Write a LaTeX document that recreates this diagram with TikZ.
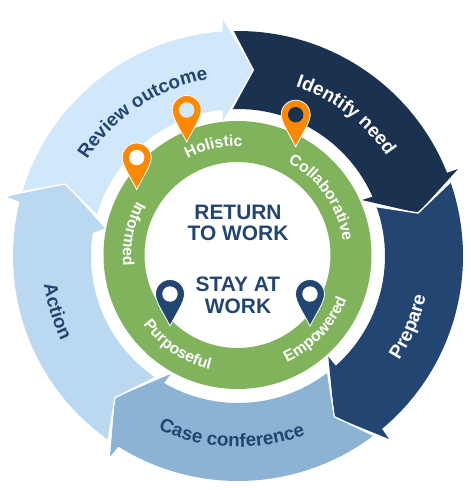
\documentclass[tikz,border=0pt]{standalone}
\usepackage{fontspec}
\setmainfont{Liberation Sans}
\usepackage{xcolor}
\usetikzlibrary{decorations.text}
\definecolor{reviewblue}{HTML}{D1E7FA}
\definecolor{identifynavy}{HTML}{1B3150}
\definecolor{preparenavy}{HTML}{234571}
\definecolor{caseblue}{HTML}{8CB3D3}
\definecolor{actionblue}{HTML}{BAD9F0}
\definecolor{ringgreen}{HTML}{80B35C}
\definecolor{pinorange}{HTML}{FF8800}
\tikzset{>=latex}
\tikzstyle{seam} = [draw=white, line width=1pt, line join=miter]
\tikzstyle{pin} = [draw=white, line width=0.6pt]
\tikzstyle{centertext} = [align=center, text=preparenavy, font=\fontsize{15.7}{16.2}\selectfont\bfseries]
\tikzstyle{lightlabel} = [decorate, decoration={text along path, text align=center, text={|\fontsize{14.2}{14}\selectfont\bfseries\color{preparenavy}|#1}}]
\tikzstyle{darklabel} = [decorate, decoration={text along path, text align=center, text={|\fontsize{14.2}{14}\selectfont\bfseries\color{white}|#1}}]
\tikzstyle{ringlabel} = [decorate, decoration={text along path, text align=center, text={|\fontsize{11.8}{12}\selectfont\bfseries\color{white}|#1}}]
\newcommand{\mappin}[4]{
    \begin{scope}[shift={(#1,#2)}]
        \draw[pin, fill=#3] (0,-32) .. controls (-6,-20) and (-14.5,-8) .. (-14.5,0) arc (180:0:14.5) .. controls (14.5,-8) and (6,-20) .. (0,-32) -- cycle;
        \fill[#4] (0,0) circle (7.7);
    \end{scope}
}

\begin{document}
\begin{tikzpicture}[x=0.75pt, y=0.75pt]
    \useasboundingbox (-238,-234) rectangle (233,256);

    % Outer ring of arrows
    \fill[reviewblue] (163.4:225) arc (163.4:94:225) -- (-15.3,236.7) -- (15.3,186) -- (-15.3,135) -- (96:147) arc (96:163.8:147) -- (-173,72) -- cycle;
    \fill[identifynavy] (91.3:225) arc (91.3:21.7:225) -- (220,87) -- (180,43) -- (124,56) -- (23.8:147) arc (23.8:92.4:147) -- (15.3,186) -- cycle;
    \fill[preparenavy] (19.2:225) arc (19.2:-50.2:225) -- (151,-183) -- (96.3,-160.7) -- (90.3,-100.7) -- (-48.3:147) arc (-48.3:19.6:147) -- (180,43) -- cycle;
    \fill[caseblue] (-52.9:225) arc (-52.9:-122.1:225) -- (-128,-200.7) -- (-123,-141.7) -- (-67.3,-118) -- (-120.2:147) arc (-120.2:-52.4:147) -- (96.3,-160.7) -- cycle;
    \fill[actionblue] (234.8:225) arc (234.8:166.1:225) -- (-231.3,59.3) -- (-173,72) -- (-133,27.7) -- (171:147) arc (171:235.8:147) -- (-123,-141.7) -- cycle;

    % White lines where one arrow enters the next
    \draw[seam] (91.3:225) -- (15.3,186) -- (92.4:147);
    \draw[seam] (19.2:225) -- (180,43) -- (19.6:147);
    \draw[seam] (-52.9:225) -- (96.3,-160.7) -- (-52.4:147);
    \draw[seam] (234.8:225) -- (-123,-141.7) -- (235.8:147);
    \draw[seam] (163.4:225) -- (-173,72) -- (163.8:147);

    % Arrow labels
    \path[lightlabel=Review outcome] (147:179) arc (147:100:179);
    \path[darklabel=Identify need] (72:179) arc (72:33:179);
    \path[darklabel=Prepare] (-33:192) arc (-33:-12:192);
    \path[lightlabel=Case conference] (-115:191) arc (-115:-69:191);
    \path[lightlabel=Action] (189:196) arc (189:205:196);

    % Green ring
    \fill[ringgreen, even odd rule] (-0.5,1) circle (134) (-0.5,1) circle (93);

    % Ring labels
    \path[ringlabel=Holistic] (118:110) arc (118:87:110);
    \path[ringlabel=Collaborative] (61:106) arc (61:9:106);
    \path[ringlabel=Empowered] (-69:117) arc (-69:-18:117);
    \path[ringlabel=Purposeful] (212:117) arc (212:260:117);
    \path[ringlabel=Informed] (150.5:115) arc (150.5:186:115);

    % Pins
    \mappin{-51.3}{146}{pinorange}{reviewblue}
    \mappin{-101.3}{98.5}{pinorange}{white}
    \mappin{57.7}{141.3}{pinorange}{identifynavy}
    \mappin{-68}{-38}{preparenavy}{white}
    \mappin{72}{-38}{preparenavy}{white}

    % Center text
    \node[centertext] (returnwork) at (0,33) {RETURN\\TO WORK};
    \node[centertext] (staywork) at (0,-39.5) {STAY AT\\WORK};
\end{tikzpicture}
\end{document}
